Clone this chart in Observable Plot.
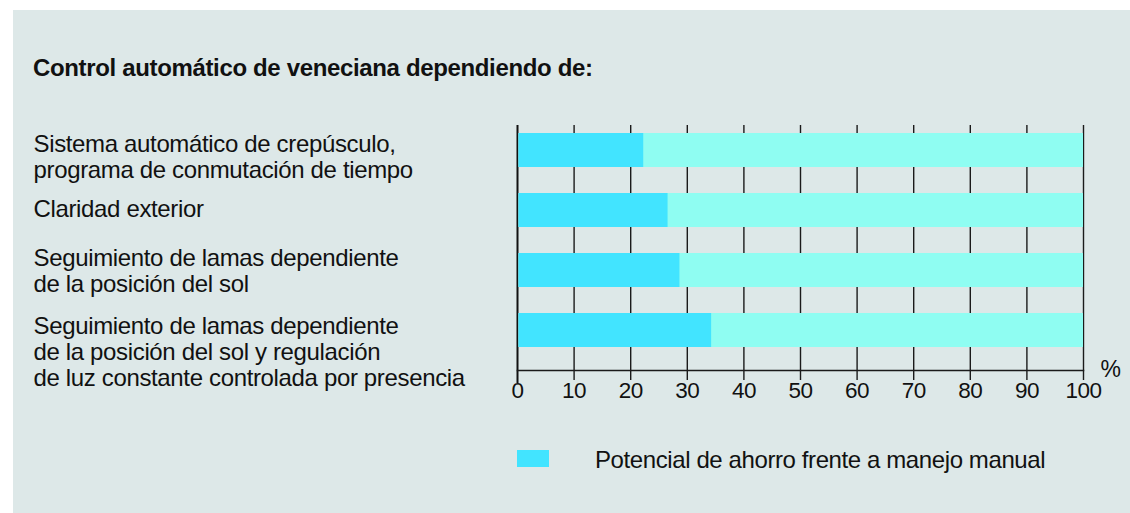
<!DOCTYPE html>
<html>
<head>
<meta charset="utf-8">
<script src="https://cdn.jsdelivr.net/npm/d3@7"></script>
<script src="https://cdn.jsdelivr.net/npm/@observablehq/plot@0.6"></script>
<style>
  html, body { margin: 0; padding: 0; background: #ffffff; }
  body { width: 1130px; height: 513px; position: relative; overflow: hidden;
         font-family: "Liberation Sans", Arial, Helvetica, sans-serif; color: #111; }
  #panel { position: absolute; left: 13px; top: 10px; width: 1117px; height: 503px; background: #dde8e8; }
  #title { position: absolute; left: 33px; top: 56px; font-size: 24px; letter-spacing: -0.35px; line-height: 23px; font-weight: bold; white-space: nowrap; }
  #chart { position: absolute; left: 0; top: 100px; }
  #legend-swatch { position: absolute; left: 517px; top: 450px; width: 32px; height: 17px; }
  #legend-text { position: absolute; left: 595px; top: 448px; font-size: 24px; letter-spacing: -0.4px; line-height: 23px; white-space: nowrap; }
  .rowlabel text { letter-spacing: -0.35px; }
  .ticklabel text { letter-spacing: -0.5px; }
</style>
</head>
<body>
<div id="panel"></div>
<div id="title"></div>
<div id="chart"></div>
<div id="legend-swatch"></div>
<div id="legend-text"></div>
<script>
// ---- data ----
const titleText = "Control automático de veneciana dependiendo de:";
const categories = [
  "Sistema automático de crepúsculo,\nprograma de conmutación de tiempo",
  "Claridad exterior",
  "Seguimiento de lamas dependiente\nde la posición del sol",
  "Seguimiento de lamas dependiente\nde la posición del sol y regulación\nde luz constante controlada por presencia"
];
const savings = [22.3, 26.6, 28.7, 34.3];
const totals = [100, 100, 100, 100];
const tickValues = [0, 10, 20, 30, 40, 50, 60, 70, 80, 90, 100];
const unitLabel = "%";
const seriesName = "Potencial de ahorro frente a manejo manual";

// ---- colours ----
const savingColor = "#42e4ff";
const restColor = "#8ffdf2";
const ink = "#111111";

document.getElementById("title").textContent = titleText;
document.getElementById("legend-text").textContent = seriesName;
document.getElementById("legend-swatch").style.background = savingColor;

const rows = categories.map((c, i) => ({category: c, saving: savings[i], total: totals[i]}));

// label vertical nudges (layout only)
const labelMark = (i, dy) => Plot.text([rows[i]], {
  y: "category", text: "category", frameAnchor: "left", dx: -484, dy,
  textAnchor: "start", lineAnchor: "middle", lineHeight: 1.09,
  fontSize: 24, fill: ink, className: "rowlabel"
});

const chart = Plot.plot({
  width: 1130,
  height: 330,
  marginLeft: 517,
  marginRight: 47,
  marginTop: 25,
  marginBottom: 60,
  style: {background: "transparent", fontFamily: "'Liberation Sans', Arial, Helvetica, sans-serif", fontSize: "23px", color: ink, overflow: "visible"},
  x: {domain: [0, 100], axis: null},
  y: {domain: categories, paddingInner: 0.4262, paddingOuter: 0.2213, align: 0.26, axis: null},
  marks: [
    Plot.ruleX(tickValues.filter(t => t > 0), {stroke: "#1a1a1a", strokeWidth: 1.4, insetBottom: -10}),
    Plot.ruleX([0], {stroke: "#111", strokeWidth: 2, insetBottom: -13}),
    Plot.frame({anchor: "bottom", stroke: "#1a1a1a", strokeWidth: 1.5}),
    Plot.barX(rows, {y: "category", x1: 0, x2: "total", fill: restColor, insetLeft: 1.5}),
    Plot.barX(rows, {y: "category", x1: 0, x2: "saving", fill: savingColor, insetLeft: 1.5}),
    Plot.axisX({ticks: tickValues, tickSize: 0, tickPadding: 12, tickFormat: d => String(d), label: null, fontSize: 22.5, fill: ink, className: "ticklabel"}),
    Plot.text([unitLabel], {frameAnchor: "bottom-right", dx: 17, dy: -1, textAnchor: "start", lineAnchor: "middle", fontSize: 23, fill: ink}),
    labelMark(0, 6),
    labelMark(1, -1.5),
    labelMark(2, 0),
    labelMark(3, 21)
  ]
});
document.getElementById("chart").appendChild(chart);
</script>
</body>
</html>
